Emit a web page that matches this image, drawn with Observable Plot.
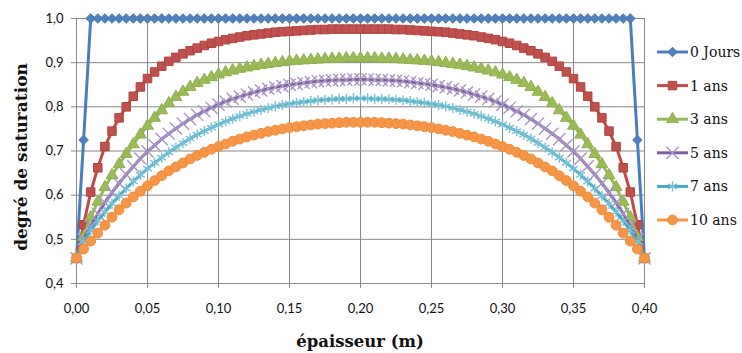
<!DOCTYPE html>
<html>
<head>
<meta charset="utf-8">
<script src="https://cdn.jsdelivr.net/npm/d3@7"></script>
<script src="https://cdn.jsdelivr.net/npm/@observablehq/plot@0.6"></script>
<style>
  html, body { margin: 0; padding: 0; background: #fff; }
  #chart { width: 742px; height: 353px; }
</style>
</head>
<body>
<div id="chart"></div>
<script>
// ---- data ----
const xs = [0,0.005,0.01,0.015,0.02,0.025,0.03,0.035,0.04,0.045,
  0.05,0.055,0.06,0.065,0.07,0.075,0.08,0.085,0.09,0.095,
  0.1,0.105,0.11,0.115,0.12,0.125,0.13,0.135,0.14,0.145,
  0.15,0.155,0.16,0.165,0.17,0.175,0.18,0.185,0.19,0.195,
  0.2,
  0.205,0.21,0.215,0.22,0.225,0.23,0.235,0.24,0.245,0.25,
  0.255,0.26,0.265,0.27,0.275,0.28,0.285,0.29,0.295,0.3,
  0.305,0.31,0.315,0.32,0.325,0.33,0.335,0.34,0.345,0.35,
  0.355,0.36,0.365,0.37,0.375,0.38,0.385,0.39,0.395,0.4];

const s0Jours = [0.457,0.725,1,1,1,1,1,1,1,1,
  1,1,1,1,1,1,1,1,1,1,
  1,1,1,1,1,1,1,1,1,1,
  1,1,1,1,1,1,1,1,1,1,
  1,
  1,1,1,1,1,1,1,1,1,1,
  1,1,1,1,1,1,1,1,1,1,
  1,1,1,1,1,1,1,1,1,1,
  1,1,1,1,1,1,1,1,0.725,0.457];

const s1ans = [0.457,0.533,0.607,0.662,0.710,0.745,0.775,0.800,0.824,0.845,
  0.864,0.879,0.892,0.903,0.912,0.920,0.927,0.933,0.939,0.944,
  0.948,0.952,0.955,0.958,0.961,0.963,0.965,0.967,0.969,0.970,
  0.971,0.972,0.973,0.974,0.975,0.975,0.976,0.976,0.976,0.976,
  0.976,
  0.976,0.976,0.976,0.976,0.975,0.975,0.974,0.973,0.972,0.971,
  0.970,0.969,0.967,0.965,0.963,0.961,0.958,0.955,0.952,0.948,
  0.944,0.939,0.933,0.927,0.920,0.912,0.903,0.892,0.879,0.864,
  0.845,0.824,0.800,0.775,0.745,0.710,0.662,0.607,0.533,0.457];

const s3ans = [0.457,0.505,0.550,0.585,0.618,0.645,0.670,0.693,0.715,0.737,
  0.757,0.775,0.792,0.808,0.822,0.834,0.845,0.854,0.861,0.867,
  0.873,0.878,0.882,0.886,0.889,0.892,0.895,0.897,0.899,0.901,
  0.903,0.904,0.905,0.906,0.907,0.908,0.909,0.909,0.910,0.910,
  0.910,
  0.910,0.910,0.909,0.909,0.908,0.907,0.906,0.905,0.904,0.903,
  0.901,0.899,0.897,0.895,0.892,0.889,0.886,0.882,0.878,0.873,
  0.867,0.861,0.854,0.845,0.834,0.822,0.808,0.792,0.775,0.757,
  0.737,0.715,0.693,0.670,0.645,0.618,0.585,0.550,0.505,0.457];

const s5ans = [0.457,0.500,0.530,0.558,0.583,0.606,0.627,0.647,0.665,0.683,
  0.699,0.713,0.727,0.739,0.751,0.762,0.772,0.782,0.790,0.798,
  0.805,0.812,0.818,0.823,0.828,0.833,0.837,0.841,0.844,0.847,
  0.850,0.852,0.854,0.856,0.858,0.859,0.860,0.861,0.861,0.862,
  0.862,
  0.862,0.861,0.861,0.860,0.859,0.858,0.856,0.854,0.852,0.850,
  0.847,0.844,0.841,0.837,0.833,0.828,0.823,0.818,0.812,0.805,
  0.798,0.790,0.782,0.772,0.762,0.751,0.739,0.727,0.713,0.699,
  0.683,0.665,0.647,0.627,0.606,0.583,0.558,0.530,0.500,0.457];

const s7ans = [0.457,0.495,0.520,0.542,0.562,0.581,0.598,0.615,0.631,0.646,
  0.660,0.673,0.685,0.697,0.708,0.718,0.728,0.737,0.745,0.753,
  0.760,0.767,0.773,0.779,0.784,0.789,0.793,0.797,0.801,0.804,
  0.807,0.809,0.811,0.813,0.815,0.816,0.817,0.818,0.818,0.819,
  0.819,
  0.819,0.818,0.818,0.817,0.816,0.815,0.813,0.811,0.809,0.807,
  0.804,0.801,0.797,0.793,0.789,0.784,0.779,0.773,0.767,0.760,
  0.753,0.745,0.737,0.728,0.718,0.708,0.697,0.685,0.673,0.660,
  0.646,0.631,0.615,0.598,0.581,0.562,0.542,0.520,0.495,0.457];

const s10ans = [0.457,0.478,0.496,0.514,0.532,0.550,0.567,0.582,0.596,0.609,
  0.621,0.633,0.644,0.655,0.664,0.673,0.682,0.690,0.697,0.704,
  0.710,0.716,0.722,0.727,0.732,0.736,0.740,0.744,0.747,0.750,
  0.753,0.755,0.757,0.759,0.761,0.762,0.763,0.764,0.765,0.765,
  0.765,
  0.765,0.765,0.764,0.763,0.762,0.761,0.759,0.757,0.755,0.753,
  0.750,0.747,0.744,0.740,0.736,0.732,0.727,0.722,0.716,0.710,
  0.704,0.697,0.690,0.682,0.673,0.664,0.655,0.644,0.633,0.621,
  0.609,0.596,0.582,0.567,0.550,0.532,0.514,0.496,0.478,0.457];

const seriesNames = ["0 Jours", "1 ans", "3 ans", "5 ans", "7 ans", "10 ans"];
const seriesValues = [s0Jours, s1ans, s3ans, s5ans, s7ans, s10ans];

const xTicks = [0,0.05,0.1,0.15,0.2,0.25,0.3,0.35,0.4];
const xTickLabels = ["0,00","0,05","0,10","0,15","0,20","0,25","0,30","0,35","0,40"];
const yTicks = [0.4,0.5,0.6,0.7,0.8,0.9,1.0];
const yTickLabels = ["0,4","0,5","0,6","0,7","0,8","0,9","1,0"];
const xTitle = "épaisseur (m)";
const yTitle = "degré de saturation";

// ---- styles ----
const styles = [
  {line: "#4a7ebb", symbol: "diamond2", r: 4.3, fill: "#4f81bd", stroke: "#4677b3", sw: 1},
  {line: "#be4b48", symbol: "square",   r: 4.8, fill: "#c0504d", stroke: "#b0443f", sw: 1},
  {line: "#98b954", symbol: "triangle", r: 4.4, fill: "#9bbb59", stroke: "#8fb04c", sw: 1},
  {line: "#7d60a0", symbol: "times",    r: 5.6, fill: "none",    stroke: "#a996c6", sw: 1.4},
  {line: "#46aac5", symbol: "asterisk", r: 4.8, fill: "none",    stroke: "#78c2d6", sw: 1.4},
  {line: "#f79646", symbol: "circle",   r: 4.9, fill: "#f79646", stroke: "#ee8c3c", sw: 1}
];

const tables = seriesValues.map((vals, k) =>
  xs.map((x, i) => ({x, y: vals[i], series: seriesNames[k]})));

const grid = "#888888";
const marks = [
  Plot.gridX({ticks: xTicks, stroke: grid, strokeOpacity: 1, strokeWidth: 1}),
  Plot.gridY({ticks: yTicks, stroke: grid, strokeOpacity: 1, strokeWidth: 1}),
  Plot.axisX({ticks: xTicks, tickFormat: (d) => xTickLabels[xTicks.indexOf(d)],
    tickSize: 5, tickPadding: 15, stroke: grid, fill: "#111", fontSize: 13,
    fontFamily: "Lato", label: null}),
  Plot.axisY({ticks: yTicks, tickFormat: (d) => yTickLabels[yTicks.indexOf(d)],
    tickSize: 5, tickPadding: 8, stroke: grid, fill: "#111", fontSize: 13,
    fontFamily: "Lato", label: null})
];
tables.forEach((t, k) => {
  const s = styles[k];
  marks.push(Plot.line(t, {x: "x", y: "y", stroke: s.line, strokeWidth: 3}));
  marks.push(Plot.dot(t, {x: "x", y: "y", symbol: () => s.symbol, r: s.r,
    fill: s.fill, stroke: s.stroke, strokeWidth: s.sw}));
});

const chart = Plot.plot({
  width: 742,
  height: 353,
  marginLeft: 76,
  marginRight: 98,
  marginTop: 18,
  marginBottom: 70,
  x: {domain: [0, 0.4]},
  y: {domain: [0.4, 1.0]},
  style: {background: "#fff", overflow: "visible"},
  marks
});
document.getElementById("chart").appendChild(chart);

// ---- titles and legend (drawn in the same SVG) ----
const svg = d3.select(chart);
svg.append("text")
  .attr("x", 360).attr("y", 347)
  .attr("text-anchor", "middle")
  .style("font-family", "'DejaVu Serif'").style("font-weight", "bold").style("font-size", "16.5px")
  .attr("fill", "#111")
  .text(xTitle);
svg.append("text")
  .attr("transform", "translate(21,157) rotate(-90)")
  .attr("text-anchor", "middle").attr("dy", "0.35em")
  .style("font-family", "'DejaVu Serif'").style("font-weight", "bold").style("font-size", "17px")
  .attr("fill", "#111")
  .text(yTitle);

const symMap = {diamond2: d3.symbolDiamond2, square: d3.symbolSquare, triangle: d3.symbolTriangle,
  times: d3.symbolTimes, asterisk: d3.symbolAsterisk, circle: d3.symbolCircle};
const lg = svg.append("g");
seriesNames.forEach((name, k) => {
  const s = styles[k];
  const cy = 52 + k * 33.6;
  const g = lg.append("g").attr("transform", `translate(0,${cy})`);
  g.append("line").attr("x1", 657).attr("x2", 688).attr("y1", 0).attr("y2", 0)
    .attr("stroke", s.line).attr("stroke-width", 3);
  g.append("path")
    .attr("d", d3.symbol(symMap[s.symbol], Math.PI * s.r * s.r)())
    .attr("transform", "translate(672.5,0)")
    .attr("fill", s.fill).attr("stroke", s.stroke).attr("stroke-width", s.sw);
  g.append("text").attr("x", 690).attr("y", 0).attr("dy", "0.36em")
    .attr("text-anchor", "start")
    .style("font-family", "'DejaVu Serif'").style("font-size", "14px")
    .attr("fill", "#111")
    .text(name);
});
</script>
</body>
</html>
